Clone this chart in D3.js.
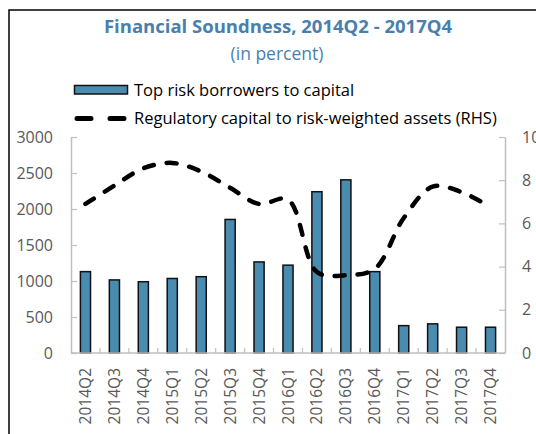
<!DOCTYPE html>
<html>
<head>
<meta charset="utf-8">
<script src="https://cdn.jsdelivr.net/npm/d3@7"></script>
<style>
  html, body { margin: 0; padding: 0; background: #fff; }
  svg { display: block; }
  text { font-family: "Open Sans", "Noto Sans", sans-serif; }
</style>
</head>
<body>
<svg id="chart" width="536" height="434"></svg>
<script>
// Quarterly observations
const quarters = ["2014Q2","2014Q3","2014Q4","2015Q1","2015Q2","2015Q3","2015Q4",
                  "2016Q1","2016Q2","2016Q3","2016Q4","2017Q1","2017Q2","2017Q3","2017Q4"];
// Top risk borrowers to capital (left axis)
const topRiskBorrowers = [1130, 1015, 990, 1035, 1060, 1855, 1265, 1220, 2240, 2405, 1130, 380, 405, 358, 358];
// Regulatory capital to risk-weighted assets (right axis)
const regulatoryCapital = [6.9, 7.75, 8.55, 8.8, 8.4, 7.65, 6.9, 7.1, 3.75, 3.6, 3.9, 6.25, 7.7, 7.45, 6.75];
const leftTicks = [0, 500, 1000, 1500, 2000, 2500, 3000];
const rightTicks = [0, 2, 4, 6, 8, 10];

const titleColor = "#4a7fad";
const barColor = "#4a8bb0";
const axisColor = "#bfbfbf";
const labelColor = "#595959";

const svg = d3.select("#chart");
const margin = { left: 71, right: 31, top: 137, bottom: 81 };
const W = 536, H = 434;
const x0 = margin.left, x1 = W - margin.right, y0 = H - margin.bottom, y1 = margin.top;

// outer frame
svg.append("rect")
  .attr("x", 9).attr("y", 10).attr("width", 540).attr("height", 440)
  .attr("fill", "none").attr("stroke", "#000").attr("stroke-width", 1.5);

// titles
svg.append("text").attr("x", 278).attr("y", 33).attr("text-anchor", "middle")
  .attr("font-size", 18.5).attr("font-weight", "bold").attr("fill", titleColor)
  .text("Financial  Soundness, 2014Q2 - 2017Q4");
svg.append("text").attr("x", 277).attr("y", 60).attr("text-anchor", "middle")
  .attr("font-size", 17.5).attr("fill", titleColor)
  .text("(in percent)");

const x = d3.scaleBand().domain(quarters).range([x0, x1]).paddingInner(0.65).paddingOuter(0.325);
const xStep = d3.scaleBand().domain(quarters).range([x0, x1]);
const yL = d3.scaleLinear().domain([0, 3000]).range([y0, y1]);
const yR = d3.scaleLinear().domain([0, 10]).range([y0, y1]);

// bars
svg.append("g").selectAll("rect").data(quarters).join("rect")
  .attr("x", d => x(d))
  .attr("y", (d, i) => yL(topRiskBorrowers[i]))
  .attr("width", x.bandwidth())
  .attr("height", (d, i) => y0 - yL(topRiskBorrowers[i]))
  .attr("fill", barColor).attr("stroke", "#111").attr("stroke-width", 1.5);

// left axis
const gL = svg.append("g").attr("transform", `translate(${x0},0)`)
  .call(d3.axisLeft(yL).tickValues(leftTicks).tickFormat(d3.format("d"))
    .tickSizeInner(-6).tickSizeOuter(0).tickPadding(18));
// right axis
const gR = svg.append("g").attr("transform", `translate(${x1},0)`)
  .call(d3.axisRight(yR).tickValues(rightTicks).tickFormat(d3.format("d"))
    .tickSizeInner(-6).tickSizeOuter(0).tickPadding(17));
// bottom axis with ticks between categories
const gB = svg.append("g").attr("transform", `translate(0,${y0})`);
gB.append("line").attr("x1", x0).attr("x2", x1).attr("y1", 0).attr("y2", 0)
  .attr("stroke", axisColor).attr("stroke-width", 1.5);
gB.selectAll("line.tk").data(quarters.slice(1)).join("line").attr("class", "tk")
  .attr("x1", d => xStep(d)).attr("x2", d => xStep(d)).attr("y1", 0).attr("y2", -5)
  .attr("stroke", axisColor).attr("stroke-width", 1.2);
gB.selectAll("text").data(quarters).join("text")
  .attr("transform", d => `translate(${xStep(d) + xStep.bandwidth() / 2 + 5.5},15) rotate(-90)`)
  .attr("text-anchor", "end").attr("font-size", 15.5).attr("fill", labelColor)
  .text(d => d);

[gL, gR].forEach(g => {
  g.select(".domain").attr("stroke", axisColor).attr("stroke-width", 1.5);
  g.selectAll(".tick line").attr("stroke", axisColor).attr("stroke-width", 1.2);
  g.selectAll(".tick text").attr("font-size", 16).attr("fill", labelColor)
    .attr("font-family", "'Open Sans', sans-serif");
});

// capital ratio line
const line = d3.line()
  .x((d, i) => xStep(quarters[i]) + xStep.bandwidth() / 2)
  .y(d => yR(d))
  .curve(d3.curveCatmullRom.alpha(0.5));
svg.append("path").datum(regulatoryCapital)
  .attr("d", line).attr("fill", "none").attr("stroke", "#000")
  .attr("stroke-width", 4.5).attr("stroke-linecap", "round")
  .attr("stroke-dasharray", "10 13");

// legend
svg.append("rect").attr("x", 74.5).attr("y", 85.5).attr("width", 53).attr("height", 8.5)
  .attr("fill", barColor).attr("stroke", "#111").attr("stroke-width", 1.5);
svg.append("text").attr("x", 134).attr("y", 96).attr("font-size", 16.5).attr("fill", "#000")
  .text("Top risk borrowers to capital");
svg.append("line").attr("x1", 77).attr("x2", 126).attr("y1", 118.5).attr("y2", 118.5)
  .attr("stroke", "#000").attr("stroke-width", 5).attr("stroke-linecap", "round")
  .attr("stroke-dasharray", "14 19");
svg.append("text").attr("x", 134).attr("y", 124).attr("font-size", 16.5).attr("fill", "#000")
  .text("Regulatory capital to risk-weighted assets (RHS)");
</script>
</body>
</html>
